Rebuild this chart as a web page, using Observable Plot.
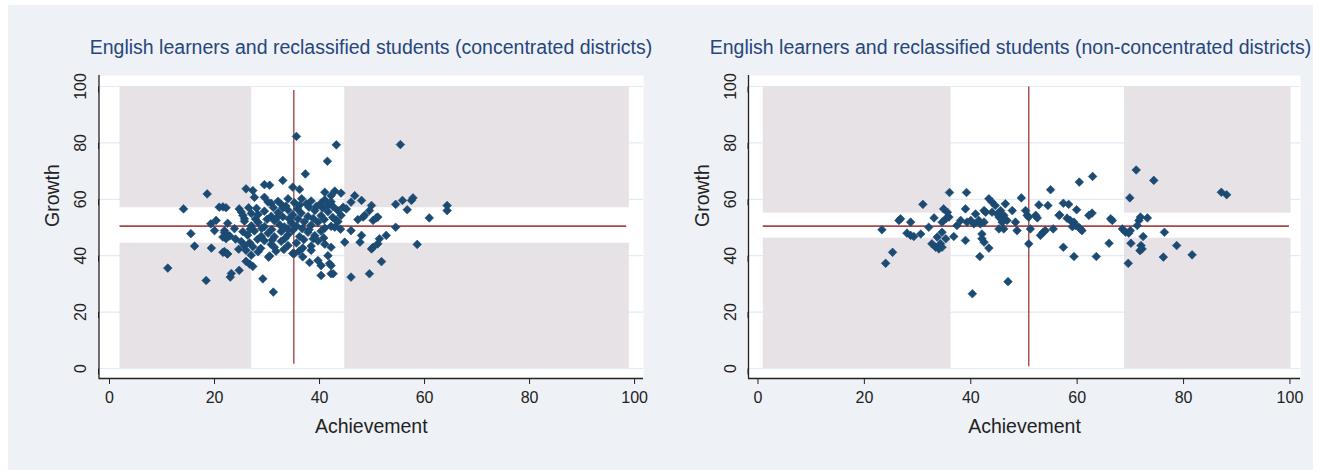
<!DOCTYPE html>
<html>
<head>
<meta charset="utf-8">
<script src="https://cdn.jsdelivr.net/npm/d3@7"></script>
<script src="https://cdn.jsdelivr.net/npm/@observablehq/plot@0.6"></script>
<style>
  body { margin: 0; background: #fff; font-family: "Liberation Sans", Arial, sans-serif; }
  #fig { position: absolute; left: 8px; top: 5px; width: 1305px; height: 465px; background: #eef1f6; }
  .panel { position: absolute; top: 62px; }
  .title { position: absolute; top: 32.5px; white-space: nowrap; font-size: 19.5px; line-height: 1;
           color: #26467c; transform: translateX(-50%); }
</style>
</head>
<body>
<div id="fig"></div>
<script>
// Concentrated districts: achievement and growth per district
const concAchievement = [
  18.6, 14.1, 20.9, 21.6, 22.2, 20.3, 19.3, 20.0, 15.5, 21.9, 22.5, 21.6, 22.2, 16.2, 19.4, 21.6, 22.4, 11.1, 18.4, 23.0,
  35.6, 43.2, 41.5, 37.3, 33.0, 29.5, 30.5, 26.0, 27.3, 27.6, 29.5, 30.2, 34.9, 36.2, 34.0, 36.6, 41.0, 42.9, 42.2, 24.7, 25.4, 25.7,
  30.8, 32.1, 32.7, 33.6, 35.2, 36.2, 37.5, 38.4, 39.4, 40.3, 41.0, 41.6, 42.2,
  25.1, 27.0, 28.3, 29.5, 30.8, 32.1, 33.0, 34.0, 34.9, 36.5, 37.8, 39.1, 40.3, 41.6,
  22.5, 25.7, 27.0, 28.3, 29.5, 31.4, 32.4, 33.3, 34.6, 35.6, 37.1, 38.4, 39.7, 42.2, 43.5,
  21.9, 22.9, 25.4, 26.3, 27.6, 28.9, 30.2, 31.4, 32.7, 34.0, 34.9, 36.2, 37.8, 39.1, 40.3,
  25.1, 25.7, 26.7, 27.3, 29.5, 30.8, 32.7, 34.0, 35.6, 38.4, 39.7, 41.0,
  21.9, 22.5, 26.0, 27.0, 28.3, 30.5, 31.7, 34.9, 36.8, 38.4, 41.6,
  26.0, 26.7, 27.3, 38.1, 39.7, 40.3, 41.9,
  23.2, 24.7, 29.2, 40.3, 42.2, 31.2, 30.3, 35.2, 36.1,
  55.4, 44.1, 46.7, 48.0, 46.0, 49.9, 49.5, 54.5, 55.8, 57.5, 57.8, 56.7, 64.3, 64.3, 60.9,
  43.5, 44.5, 45.1, 44.1, 43.2, 47.3, 48.3, 48.6, 50.2, 50.8, 51.1, 42.9, 54.5,
  46.0, 48.0, 47.7, 44.8, 52.7, 51.4, 51.1, 50.2, 49.9, 58.6, 51.8, 49.5, 46.0, 42.2, 42.2, 42.6,
  26.5, 28.0, 31.2, 33.0, 35.8, 38.0, 40.6, 42.6,
  27.8, 30.0, 31.8, 34.2, 35.9, 38.8, 40.9, 42.5,
  23.8, 26.8, 29.0, 30.9, 33.9, 36.7, 38.0, 41.0, 44.0,
  24.0, 28.2, 31.0, 33.4, 37.0, 38.8, 40.8,
  24.6, 28.8, 31.4, 33.2, 36.8
];
const concGrowth = [
  61.9, 56.6, 57.2, 57.3, 57.0, 52.5, 51.3, 48.9, 47.8, 48.9, 47.2, 46.6, 46.0, 43.4, 42.7, 41.2, 40.7, 35.6, 31.2, 32.4,
  82.3, 79.3, 73.5, 69.0, 66.7, 65.2, 65.0, 63.7, 63.1, 60.7, 60.7, 59.0, 64.3, 63.5, 60.2, 60.2, 62.5, 62.9, 61.3, 56.6, 54.3, 53.1,
  58.6, 59.3, 58.2, 57.6, 58.8, 57.9, 58.4, 59.4, 57.5, 58.7, 59.8, 57.8, 59.1,
  55.5, 55.0, 54.6, 55.8, 54.0, 55.3, 53.8, 56.2, 54.5, 55.1, 53.9, 56.0, 54.2, 55.6,
  51.5, 52.2, 50.6, 51.8, 50.3, 52.4, 51.0, 50.2, 51.7, 50.5, 52.0, 50.8, 51.9, 50.4, 52.1,
  48.2, 47.0, 48.5, 47.3, 48.8, 46.9, 48.0, 46.7, 48.6, 47.4, 49.0, 46.8, 48.3, 47.1, 48.7,
  45.0, 43.5, 44.6, 43.2, 45.3, 44.0, 45.1, 43.6, 44.5, 43.4, 45.2, 44.1,
  41.5, 40.6, 41.9, 40.2, 41.4, 39.9, 41.6, 40.8, 39.6, 41.9, 40.0,
  38.0, 37.0, 36.2, 37.6, 38.3, 36.5, 37.2,
  33.7, 34.8, 31.8, 33.0, 33.6, 27.1, 39.5, 40.7, 41.6,
  79.4, 62.2, 61.3, 59.6, 59.0, 57.8, 56.0, 58.2, 59.6, 59.6, 60.5, 56.3, 57.8, 56.0, 53.4,
  56.0, 57.2, 56.6, 54.3, 52.5, 52.8, 53.7, 54.3, 52.5, 53.4, 53.7, 50.1, 50.1,
  48.9, 47.2, 44.8, 44.8, 47.2, 46.0, 44.2, 43.0, 42.4, 44.0, 37.9, 33.6, 32.4, 43.0, 36.5, 33.6,
  57.0, 56.8, 57.1, 56.9, 56.6, 57.2, 56.9, 57.4,
  53.0, 52.9, 53.3, 53.1, 53.0, 53.2, 52.8, 53.6,
  49.6, 49.4, 49.7, 49.3, 49.5, 49.6, 49.2, 49.8, 49.4,
  45.9, 45.8, 45.6, 46.1, 45.7, 46.0, 46.3,
  42.3, 42.6, 43.0, 42.2, 42.7
];

// Non-concentrated districts
const nonAchievement = [
  23.3, 24.0, 25.3, 26.5, 26.8, 28.0, 28.7, 29.3, 30.6, 28.7, 31.0, 32.1, 33.1, 32.7, 33.4, 34.0, 34.6, 34.3, 33.7, 35.3,
  34.6, 35.3, 35.6, 35.9, 34.9, 34.6, 36.0, 36.8, 37.4, 38.1, 39.3, 40.0, 40.6, 39.2, 39.0, 39.0, 40.9, 41.5, 41.8, 42.5,
  40.3, 41.7, 42.1, 42.1, 42.5, 43.4, 42.5, 42.8, 43.4, 44.0, 44.6, 44.0, 45.0, 45.6, 45.3, 46.2, 46.8, 47.8, 46.5, 45.9,
  45.3, 46.2, 47.0, 48.4, 48.7, 49.5, 50.3, 50.6, 50.9, 51.2, 50.9, 52.2, 52.5, 52.8, 53.1, 53.6, 54.0, 54.5, 55.0, 55.5,
  56.6, 60.4, 62.9, 57.4, 58.4, 56.7, 59.9, 58.1, 58.7, 59.4, 59.7, 60.3, 60.9, 59.1, 60.6, 62.2, 62.8, 57.4, 59.4, 63.6,
  66.0, 66.3, 66.6, 69.9, 71.1, 74.4, 68.5, 69.1, 69.7, 70.0, 70.1, 69.6, 71.3, 71.6, 71.9, 73.2, 72.4, 72.0, 71.8, 72.2,
  76.4, 76.2, 78.7, 81.6, 87.1, 88.1
];
const nonGrowth = [
  49.2, 37.3, 41.2, 52.5, 53.1, 48.0, 51.9, 46.8, 47.7, 47.2, 58.2, 50.1, 53.4, 44.2, 43.0, 42.4, 43.0, 44.2, 46.6, 46.0,
  48.3, 53.1, 55.4, 53.7, 56.6, 51.9, 62.4, 46.8, 50.7, 52.5, 51.9, 52.5, 51.3, 62.4, 56.6, 45.4, 54.8, 52.5, 51.3, 51.9,
  26.5, 39.7, 47.7, 46.0, 44.8, 42.7, 56.0, 55.4, 60.2, 59.0, 57.8, 55.4, 54.8, 56.0, 53.7, 54.3, 52.5, 56.0, 58.4, 51.9,
  49.5, 49.5, 30.8, 51.9, 48.9, 60.5, 56.0, 54.3, 53.7, 49.5, 44.2, 54.3, 53.4, 58.0, 47.2, 48.3, 48.9, 57.8, 63.4, 49.5,
  54.3, 66.1, 68.1, 58.6, 58.2, 54.5, 56.3, 53.3, 52.5, 51.9, 50.7, 50.1, 48.9, 50.3, 49.5, 54.3, 55.1, 43.0, 39.7, 39.7,
  44.4, 53.1, 52.5, 60.5, 70.4, 66.7, 49.5, 48.3, 48.0, 48.9, 44.4, 37.3, 50.7, 52.5, 53.7, 53.4, 46.8, 43.6, 41.8, 42.4,
  48.3, 39.5, 43.6, 40.3, 62.5, 61.6
];

// Shaded quadrant bands: achievement ranges and growth ranges
const concBandAch = [[2.0, 27.1], [44.8, 99.0]];
const concBandGrowth = [[0, 44.4], [57.0, 100]];
const nonBandAch = [[1.0, 36.3], [68.9, 100.2]];
const nonBandGrowth = [[0, 46.2], [55.1, 100]];

// Reference cross: vertical line at achievement, horizontal line at growth
const concCross = {x: 35.1, yFrom: 1.5, yTo: 98.6, y: 50.5, xFrom: 2.0, xTo: 98.5};
const nonCross = {x: 50.9, yFrom: 0.6, yTo: 99.8, y: 50.5, xFrom: 1.0, xTo: 99.9};

const xTicks = [0, 20, 40, 60, 80, 100];
const yTicks = [0, 20, 40, 60, 80, 100];

const titles = [
  "English learners and reclassified students (concentrated districts)",
  "English learners and reclassified students (non-concentrated districts)"
];

const NAVY = "#1b4a72";
const RED = "#a8474a";
const INK = "#222";
const FONT = "'Liberation Sans', Arial, sans-serif";
const yDomain = [-3.55, 103.9];

function corners(bandAch, bandGrowth) {
  const out = [];
  for (const [x1, x2] of bandAch) for (const [y1, y2] of bandGrowth) out.push({x1, x2, y1, y2});
  return out;
}

function panel(cfg) {
  const points = cfg.ach.map((a, i) => ({a, g: cfg.growth[i]}));
  const c = cfg.cross;
  return Plot.plot({
    width: cfg.width,
    height: 403,
    marginTop: 8,
    marginBottom: 92,
    marginLeft: cfg.marginLeft,
    marginRight: cfg.marginRight,
    x: {domain: cfg.xDomain},
    y: {domain: yDomain},
    style: {background: "transparent", fontFamily: FONT, overflow: "visible"},
    marks: [
      Plot.frame({fill: "#fff", stroke: null}),
      Plot.ruleY(yTicks, {stroke: "#e3eaf2", strokeWidth: 1.2}),
      Plot.rect(corners(cfg.bandAch, cfg.bandGrowth), {x1: "x1", x2: "x2", y1: "y1", y2: "y2", fill: "#e7e2e6"}),
      Plot.ruleX([c], {x: "x", y1: "yFrom", y2: "yTo", stroke: RED, strokeWidth: 1.4}),
      Plot.ruleY([c], {y: "y", x1: "xFrom", x2: "xTo", stroke: RED, strokeWidth: 1.6}),
      Plot.dot(points, {x: "a", y: "g", symbol: "diamond2", r: 3.9, fill: NAVY, stroke: NAVY, strokeWidth: 0.6}),
      Plot.ruleX([cfg.xDomain[0]], {stroke: INK, strokeWidth: 1.3}),
      Plot.ruleY([yDomain[0]], {stroke: INK, strokeWidth: 1.3}),
      Plot.axisX(xTicks, {anchor: "bottom", tickSize: 6, tickPadding: 7, fontSize: 16, color: INK, label: null}),
      Plot.axisY(yTicks, {anchor: "left", tickSize: 6, tickPadding: 12, fontSize: 16, color: INK, label: null,
                          rotate: -90, textAnchor: "middle"}),
      Plot.text(["Achievement"], {text: d => d, frameAnchor: "bottom", dy: 54, fontSize: 19.5, fill: INK}),
      Plot.text(["Growth"], {text: d => d, frameAnchor: "left", dx: -46, rotate: -90, fontSize: 19.5, fill: INK})
    ]
  });
}

const fig = document.getElementById("fig");
const configs = [
  {title: titles[0], titleCenter: 363, left: 0, width: 652, marginLeft: 90.5, marginRight: 17,
   xDomain: [-2.0, 101.7], ach: concAchievement, growth: concGrowth,
   bandAch: concBandAch, bandGrowth: concBandGrowth, cross: concCross},
  {title: titles[1], titleCenter: 1002.5, left: 652, width: 653, marginLeft: 88, marginRight: 13,
   xDomain: [-1.78, 101.98], ach: nonAchievement, growth: nonGrowth,
   bandAch: nonBandAch, bandGrowth: nonBandGrowth, cross: nonCross}
];

for (const cfg of configs) {
  const t = document.createElement("div");
  t.className = "title";
  t.style.left = cfg.titleCenter + "px";
  t.textContent = cfg.title;
  fig.appendChild(t);
  const wrap = document.createElement("div");
  wrap.className = "panel";
  wrap.style.left = cfg.left + "px";
  wrap.appendChild(panel(cfg));
  fig.appendChild(wrap);
}
</script>
</body>
</html>
